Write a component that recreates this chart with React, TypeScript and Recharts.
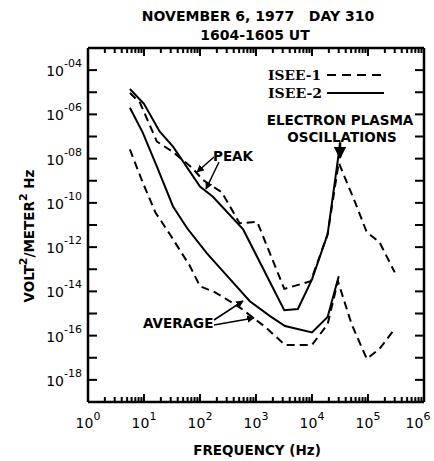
import { LineChart, Line, XAxis, YAxis } from "recharts";

// frequency (Hz) and spectral density (V^2/m^2 Hz)
const isee2PeakFreq = [5.6, 10, 19, 33, 100, 170, 590, 3200, 5600, 1.0e4, 1.9e4, 3.2e4];
const isee2PeakPow = [1.4e-5, 3.0e-6, 1.7e-7, 3.5e-8, 5.5e-10, 1.9e-10, 6.3e-12, 1.4e-15, 1.6e-15, 3.5e-14, 3.8e-12, 5.5e-8];

const isee1PeakFreq = [5.6, 8.5, 17, 32, 72, 112, 245, 510, 1050, 3200, 9500, 1.9e4, 3.0e4, 5.9e4, 9.5e4, 1.6e5, 3.0e5];
const isee1PeakPow = [9.3e-6, 3.3e-6, 5.9e-8, 2.1e-8, 3.9e-9, 1.1e-9, 3.0e-10, 1.2e-11, 1.4e-11, 1.3e-14, 2.9e-14, 3.8e-12, 6.6e-9, 1.05e-10, 4.7e-12, 1.7e-12, 7.2e-14];

const isee2AvgFreq = [5.6, 9.5, 17, 33, 59, 133, 347, 776, 1780, 3300, 1.0e4, 1.9e4, 3.0e4];
const isee2AvgPow = [2.0e-6, 1.5e-7, 4.4e-9, 6.9e-11, 7.1e-12, 5.2e-13, 3.5e-14, 3.6e-15, 7.6e-16, 2.7e-16, 1.4e-16, 6.9e-16, 4.8e-14];

const isee1AvgFreq = [5.6, 9.5, 16, 29, 66, 100, 186, 510, 1450, 3300, 1.0e4, 1.9e4, 2.9e4, 5.1e4, 9.5e4, 1.6e5, 3.0e5];
const isee1AvgPow = [2.6e-8, 8.3e-10, 3.7e-11, 3.8e-12, 1.4e-13, 1.7e-14, 9.1e-15, 1.9e-15, 2.5e-16, 3.8e-17, 3.8e-17, 3.3e-16, 2.9e-14, 3.3e-16, 8.9e-18, 2.5e-17, 2.0e-16];

// axis ticks
const xMajor = [1, 10, 100, 1e3, 1e4, 1e5, 1e6];
const xMinorSteps = [2, 3, 4, 5, 6, 7, 8, 9];
const yDecades = [-19, -18, -17, -16, -15, -14, -13, -12, -11, -10, -9, -8, -7, -6, -5, -4, -3];

const toRows = (fs: number[], ps: number[]) => fs.map((f, i) => ({ f, p: ps[i] }));

const xTicks = [
  ...xMajor,
  ...xMajor.slice(0, -1).flatMap((d) => xMinorSteps.map((s) => s * d)),
].sort((a, b) => a - b);
const yTicks = yDecades.map((e) => Number(`1e${e}`));

const FONT = "'DejaVu Sans', sans-serif";
const INK = "#000";
const isMajorX = (v: number) => xMajor.some((m) => Math.abs(m - v) / m < 1e-6);

const BottomTick = (props: any) => {
  const { x, y, payload } = props;
  const v = payload.value;
  const major = isMajorX(v);
  const last = v >= 1e6;
  return (
    <g>
      <line x1={x} y1={y} x2={x} y2={y - (major ? 8 : 5)} stroke={INK} strokeWidth={2} />
      {major && (
        <text
          x={last ? x - 6 : x}
          y={y + 26}
          textAnchor="middle"
          fontFamily={FONT}
          fontSize={14}
          fill={INK}
        >
          10<tspan dy={-8} fontSize={11}>{Math.round(Math.log10(v))}</tspan>
        </text>
      )}
    </g>
  );
};

const TopTick = (props: any) => {
  const { x, y, payload } = props;
  const major = isMajorX(payload.value);
  return <line x1={x} y1={y} x2={x} y2={y + (major ? 8 : 5)} stroke={INK} strokeWidth={2} />;
};

const LeftTick = (props: any) => {
  const { x, y, payload } = props;
  const e = Math.round(Math.log10(payload.value));
  const label = e % 2 === 0 && e > -19 && e < -3;
  const exp = "-" + String(Math.abs(e)).padStart(2, "0");
  return (
    <g>
      <line x1={x} y1={y} x2={x + 9} y2={y} stroke={INK} strokeWidth={2} />
      {label && (
        <text x={x - 6} y={y + 6} textAnchor="end" fontFamily={FONT} fontSize={14} fill={INK}>
          10<tspan dy={-9} fontSize={11}>{exp}</tspan>
        </text>
      )}
    </g>
  );
};

const RightTick = (props: any) => {
  const { x, y } = props;
  return <line x1={x} y1={y} x2={x - 9} y2={y} stroke={INK} strokeWidth={2} />;
};

const axisLine = { stroke: INK, strokeWidth: 2.5 };

const series = [
  { key: "isee1Peak", rows: toRows(isee1PeakFreq, isee1PeakPow), dash: "8 5" },
  { key: "isee2Peak", rows: toRows(isee2PeakFreq, isee2PeakPow), dash: undefined },
  { key: "isee1Avg", rows: toRows(isee1AvgFreq, isee1AvgPow), dash: "8 5" },
  { key: "isee2Avg", rows: toRows(isee2AvgFreq, isee2AvgPow), dash: undefined },
];

export default function App() {
  return (
    <div style={{ position: "absolute", left: 0, top: 0, width: 434, height: 461, background: "#fff" }}>
      <LineChart width={434} height={461} margin={{ top: 38, right: 0, bottom: 29, left: 48 }}>
        <XAxis
          dataKey="f"
          type="number"
          scale="log"
          domain={[1, 1e6]}
          allowDataOverflow
          ticks={xTicks}
          interval={0}
          tickSize={0}
          tickMargin={0}
          height={30}
          axisLine={axisLine}
          tickLine={false}
          tick={<BottomTick />}
        />
        <XAxis
          xAxisId="top"
          orientation="top"
          dataKey="f"
          type="number"
          scale="log"
          domain={[1, 1e6]}
          allowDataOverflow
          ticks={xTicks}
          interval={0}
          tickSize={0}
          tickMargin={0}
          height={10}
          axisLine={axisLine}
          tickLine={false}
          tick={<TopTick />}
        />
        <YAxis
          type="number"
          scale="log"
          domain={[1e-19, 1e-3]}
          allowDataOverflow
          ticks={yTicks}
          interval={0}
          tickSize={0}
          tickMargin={0}
          width={40}
          axisLine={axisLine}
          tickLine={false}
          tick={<LeftTick />}
        />
        <YAxis
          yAxisId="right"
          orientation="right"
          type="number"
          scale="log"
          domain={[1e-19, 1e-3]}
          allowDataOverflow
          ticks={yTicks}
          interval={0}
          tickSize={0}
          tickMargin={0}
          width={10}
          axisLine={axisLine}
          tickLine={false}
          tick={<RightTick />}
        />
        {series.map((s) => (
          <Line
            key={s.key}
            data={s.rows}
            dataKey="p"
            type="linear"
            stroke={INK}
            strokeWidth={2}
            strokeDasharray={s.dash}
            dot={false}
            isAnimationActive={false}
          />
        ))}
      </LineChart>
      <svg
        width={434}
        height={461}
        style={{ position: "absolute", left: 0, top: 0, pointerEvents: "none" }}
        fontFamily={FONT}
        fontWeight="bold"
      >
        <defs>
          <marker id="ah" viewBox="0 0 10 10" refX="9" refY="5" markerWidth="5" markerHeight="5" orient="auto">
            <path d="M0,0 L10,5 L0,10 z" fill={INK} />
          </marker>
        </defs>
        <text x={258} y={21} textAnchor="middle" fontSize={14}>
          NOVEMBER 6, 1977{"\u00a0\u00a0\u00a0"}DAY 310
        </text>
        <text x={255} y={40} textAnchor="middle" fontSize={14}>1604-1605 UT</text>

        <text x={257} y={455} textAnchor="middle" fontSize={13.5}>FREQUENCY (Hz)</text>
        <text transform="translate(34,236) rotate(-90)" textAnchor="middle" fontSize={13.5}>
          VOLT<tspan dy={-7} fontSize={11}>2</tspan>
          <tspan dy={7}>/METER</tspan>
          <tspan dy={-7} fontSize={11}>2</tspan>
          <tspan dy={7}> Hz</tspan>
        </text>

        <text x={268} y={80} fontSize={13} fontFamily="'DejaVu Serif', serif" textLength={53} lengthAdjust="spacingAndGlyphs">ISEE-1</text>
        <line x1={327} y1={75} x2={384} y2={75} stroke={INK} strokeWidth={2} strokeDasharray="9 6" />
        <text x={268} y={98} fontSize={13} fontFamily="'DejaVu Serif', serif" textLength={54} lengthAdjust="spacingAndGlyphs">ISEE-2</text>
        <line x1={327} y1={93} x2={384} y2={93} stroke={INK} strokeWidth={2} />
        <text x={340} y={125} textAnchor="middle" fontSize={13.5}>ELECTRON PLASMA</text>
        <text x={342} y={142} textAnchor="middle" fontSize={13.5}>OSCILLATIONS</text>
        <line x1={340} y1={143} x2={340} y2={158} stroke={INK} strokeWidth={2.5} markerEnd="url(#ah)" />

        <text x={213} y={161} fontSize={13.5}>PEAK</text>
        <line x1={214} y1={157} x2={197} y2={172} stroke={INK} strokeWidth={1.5} markerEnd="url(#ah)" />
        <line x1={219} y1={162} x2={206} y2={189} stroke={INK} strokeWidth={1.5} markerEnd="url(#ah)" />

        <text x={143} y={328} fontSize={13.5}>AVERAGE</text>
        <line x1={214} y1={320} x2={243} y2={301} stroke={INK} strokeWidth={1.5} markerEnd="url(#ah)" />
        <line x1={214} y1={325} x2={254} y2={318} stroke={INK} strokeWidth={1.5} markerEnd="url(#ah)" />
      </svg>
    </div>
  );
}
